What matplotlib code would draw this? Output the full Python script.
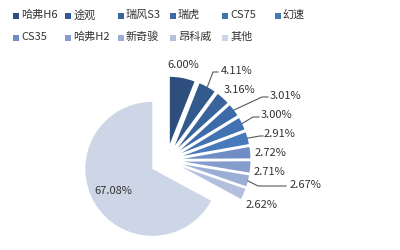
import matplotlib
matplotlib.use("Agg")
import numpy as np
import matplotlib.pyplot as plt
from matplotlib.patches import Rectangle

plt.rcParams['font.family'] = ['Noto Sans CJK SC', 'DejaVu Sans']

# 车型销量份额
brands = ['哈弗H6', '途观', '瑞风S3', '瑞虎', 'CS75', '幻速',
          'CS35', '哈弗H2', '新奇骏', '昂科威', '其他']
shares = [6.00, 4.11, 3.16, 3.01, 3.00, 2.91, 2.72, 2.71, 2.67, 2.62, 67.08]
colors = ['#2E4F7E', '#335A8D', '#38639B', '#3C6BA8', '#4272B2', '#4879BB',
          '#6F8DC4', '#859DCC', '#9BAED5', '#B2C0DD', '#CDD6E7']

# label text centres (image pixels) and leader elbows / ends
label_pos = [(183, 65), (237, 71), (240, 90), (285, 96), (276, 115),
             (279, 134), (270, 153), (269, 172), (305, 185), (262, 205),
             (113, 191)]
leaders = {1: [(213, 73), (218, 73)],
           3: [(262, 98), (268, 98)],
           4: [(253, 118), (259, 118)],
           5: [(260, 137), (263, 137)],
           8: [(258, 187), (286, 187)]}

W, H = 400, 251
fig = plt.figure(figsize=(W / 100, H / 100), dpi=100)
ax = fig.add_axes([0, 0, 1, 1])
ax.axis('off')

wedges, _ = ax.pie(shares, colors=colors, startangle=90, counterclock=False,
                   explode=[0.25] * len(shares), radius=1.0,
                   wedgeprops=dict(linewidth=0))
ax.set_xlim(-2.488, 3.482)
ax.set_ylim(-1.339, 2.407)

inv = ax.transData.inverted()


def px(x, y):
    return inv.transform((x, H - y))


txt_color = '#333333'
for i, (w, s) in enumerate(zip(wedges, shares)):
    tx, ty = px(*label_pos[i])
    ax.text(tx, ty, f'{s:.2f}%', ha='center', va='center',
            fontsize=8, color=txt_color)
    if i in leaders:
        mid = np.deg2rad((w.theta1 + w.theta2) / 2)
        cx, cy = w.center
        pts = [(cx + w.r * np.cos(mid), cy + w.r * np.sin(mid))]
        pts += [tuple(px(*p)) for p in leaders[i]]
        xs, ys = zip(*pts)
        ax.plot(xs, ys, color='#595959', lw=0.8)

# legend, two rows of six columns
for i, (name, c) in enumerate(zip(brands, colors)):
    row, col = divmod(i, 6)
    x0 = 13 + col * 52.3
    y0 = 16 + row * 22
    fig.patches.append(Rectangle((x0 / W, (H - y0 - 4) / H), 6 / W, 6 / H,
                                 transform=fig.transFigure, color=c, lw=0))
    fig.text((x0 + 8) / W, (H - y0 + 1) / H, name, ha='left', va='center',
             fontsize=8, color=txt_color)

fig.savefig('out.png', dpi=100, facecolor='white')
